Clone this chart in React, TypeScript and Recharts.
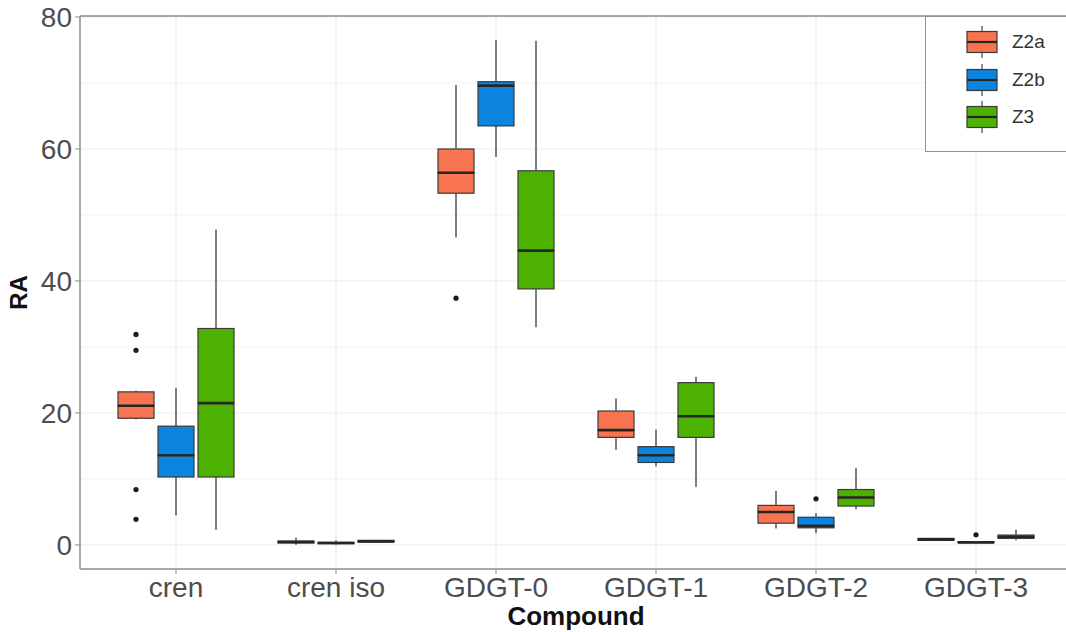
import React from 'react';
import { ComposedChart, Bar, Scatter, XAxis, YAxis, CartesianGrid, ReferenceLine } from 'recharts';

const CATEGORIES = ['cren', 'cren iso', 'GDGT-0', 'GDGT-1', 'GDGT-2', 'GDGT-3'];
const SERIES = ['Z2a', 'Z2b', 'Z3'];

const COLORS: Record<string, string> = {
  Z2a: '#F8734F',
  Z2b: '#0A84DF',
  Z3: '#4DB102',
};

// [lower whisker, q1, median, q3, upper whisker] per category
const Z2A_BOXES = [
  [19.0, 19.2, 21.1, 23.2, 23.4],
  [0.05, 0.3, 0.45, 0.6, 1.1],
  [46.6, 53.3, 56.4, 60.0, 69.7],
  [14.4, 16.3, 17.4, 20.3, 22.2],
  [2.5, 3.3, 5.0, 6.0, 8.2],
  [0.6, 0.7, 0.85, 1.0, 1.1],
];
const Z2B_BOXES = [
  [4.5, 10.3, 13.6, 18.0, 23.8],
  [0.05, 0.2, 0.3, 0.4, 0.7],
  [58.8, 63.5, 69.6, 70.2, 76.5],
  [11.9, 12.5, 13.6, 14.9, 17.5],
  [1.8, 2.6, 2.9, 4.2, 4.8],
  [0.3, 0.35, 0.4, 0.5, 0.55],
];
const Z3_BOXES = [
  [2.3, 10.3, 21.5, 32.8, 47.8],
  [0.3, 0.45, 0.55, 0.7, 0.8],
  [33.0, 38.8, 44.6, 56.7, 76.4],
  [8.8, 16.3, 19.5, 24.6, 25.5],
  [5.4, 5.9, 7.2, 8.4, 11.7],
  [0.7, 1.0, 1.25, 1.5, 2.3],
];

// [category, value]
const Z2A_OUTLIERS: [string, number][] = [
  ['cren', 31.9],
  ['cren', 29.5],
  ['cren', 8.4],
  ['cren', 3.9],
  ['GDGT-0', 37.4],
];
const Z2B_OUTLIERS: [string, number][] = [
  ['GDGT-2', 7.0],
  ['GDGT-3', 1.55],
];
const Z3_OUTLIERS: [string, number][] = [];

const Y_TICKS = [0, 20, 40, 60, 80];
const Y_MINOR = [10, 30, 50, 70];

const BOXES: Record<string, number[][]> = { Z2a: Z2A_BOXES, Z2b: Z2B_BOXES, Z3: Z3_BOXES };
const OUTLIERS: Record<string, [string, number][]> = { Z2a: Z2A_OUTLIERS, Z2b: Z2B_OUTLIERS, Z3: Z3_OUTLIERS };

const Y_DOMAIN: [number, number] = [-3.64, 80.15];
const DODGE = 0.25; // box offset within a category, in category units
const FONT = '"Liberation Sans", Arial, Helvetica, sans-serif';

const rows = CATEGORIES.map((name, i) => {
  const row: Record<string, any> = { name };
  SERIES.forEach((s) => {
    const [lo, q1, med, q3, hi] = BOXES[s][i];
    row[`${s}_base`] = lo;
    row[`${s}_lw`] = q1 - lo;
    row[`${s}_b1`] = med - q1;
    row[`${s}_b2`] = q3 - med;
    row[`${s}_uw`] = hi - q3;
  });
  return row;
});

const outlierPoints = SERIES.flatMap((s, si) =>
  OUTLIERS[s].map(([cat, v]) => ({ x: CATEGORIES.indexOf(cat) + 1 + (si - 1) * DODGE, y: v }))
);

const minorLines = ({ yAxis, offset }: any) =>
  Y_MINOR.map((v) =>
    yAxis && typeof yAxis.scale === 'function'
      ? yAxis.scale(v)
      : offset.top + (offset.height * (Y_DOMAIN[1] - v)) / (Y_DOMAIN[1] - Y_DOMAIN[0])
  );

const Whisker = (props: any) => {
  const { x, y, width, height } = props;
  const cx = x + width / 2;
  return <line x1={cx} x2={cx} y1={y} y2={y + height} stroke="#555" strokeWidth={1.5} />;
};

const makeBox = (color: string, withMedian: boolean) => (props: any) => {
  const { x, y, width, height } = props;
  return (
    <g>
      <rect x={x} y={y} width={width} height={Math.max(height, 0)} fill={color} stroke="#3a3a3a" strokeWidth={1.2} />
      {withMedian && (
        <line x1={x} x2={x + width} y1={y + height} y2={y + height} stroke="#262626" strokeWidth={2.6} />
      )}
    </g>
  );
};

const Empty = () => <g />;

const LegendIcon = ({ color }: { color: string }) => (
  <svg width={32} height={36} style={{ display: 'block' }}>
    <line x1={16} x2={16} y1={2} y2={34} stroke="#555" strokeWidth={1.3} />
    <rect x={1} y={7.5} width={30} height={21} fill={color} stroke="#3a3a3a" strokeWidth={1.2} />
    <line x1={1} x2={31} y1={18} y2={18} stroke="#262626" strokeWidth={2.2} />
  </svg>
);

export default function App() {
  return (
    <div
      style={{
        position: 'fixed',
        left: 0,
        top: 0,
        width: 1066,
        height: 632,
        overflow: 'hidden',
        background: '#fff',
        fontFamily: FONT,
      }}
    >
      <ComposedChart
        width={1080}
        height={632}
        data={rows}
        margin={{ top: 16, right: 8, bottom: 0, left: 0 }}
        barSize={36}
        barGap={4}
      >
        <CartesianGrid vertical={false} stroke="#f3f3f3" strokeWidth={1} horizontalCoordinatesGenerator={minorLines} />
        <CartesianGrid stroke="#ebebeb" strokeWidth={1.2} />
        <ReferenceLine y={Y_DOMAIN[1]} stroke="#8f8f8f" strokeWidth={1.5} />
        <XAxis
          dataKey="name"
          height={63}
          interval={0}
          padding={{ left: 16, right: 16 }}
          tickSize={5}
          tickMargin={3}
          stroke="#8f8f8f"
          axisLine={{ stroke: '#8f8f8f', strokeWidth: 1.5 }}
          tickLine={{ stroke: '#8f8f8f' }}
          tick={{ fontSize: 28, fill: '#4d4d4d' }}
          label={{
            content: (p: any) => {
              const vb = p.viewBox;
              return (
                <text x={vb.x + vb.width / 2} y={625} textAnchor="middle" fontSize={26} fontWeight="bold" fill="#111">
                  Compound
                </text>
              );
            },
          }}
        />
        <XAxis xAxisId="n" type="number" dataKey="x" domain={[0.4, 6.6]} allowDataOverflow hide />
        <YAxis
          width={80}
          domain={Y_DOMAIN}
          ticks={Y_TICKS}
          allowDataOverflow
          tickSize={5}
          tickMargin={3}
          stroke="#8f8f8f"
          axisLine={{ stroke: '#8f8f8f', strokeWidth: 1.5 }}
          tickLine={{ stroke: '#8f8f8f' }}
          tick={{ fontSize: 28, fill: '#4d4d4d' }}
          label={{
            content: (p: any) => {
              const vb = p.viewBox;
              const cy = vb.y + vb.height / 2;
              return (
                <text
                  x={27}
                  y={cy}
                  textAnchor="middle"
                  fontSize={24}
                  fontWeight="bold"
                  fill="#111"
                  transform={`rotate(-90 27 ${cy})`}
                >
                  RA
                </text>
              );
            },
          }}
        />
        {SERIES.flatMap((s) => [
          <Bar key={`${s}_base`} dataKey={`${s}_base`} stackId={s} shape={Empty} isAnimationActive={false} />,
          <Bar key={`${s}_lw`} dataKey={`${s}_lw`} stackId={s} shape={Whisker} isAnimationActive={false} />,
          <Bar key={`${s}_b1`} dataKey={`${s}_b1`} stackId={s} shape={makeBox(COLORS[s], false)} isAnimationActive={false} />,
          <Bar key={`${s}_b2`} dataKey={`${s}_b2`} stackId={s} shape={makeBox(COLORS[s], true)} isAnimationActive={false} />,
          <Bar key={`${s}_uw`} dataKey={`${s}_uw`} stackId={s} shape={Whisker} isAnimationActive={false} />,
        ])}
        <Scatter
          xAxisId="n"
          data={outlierPoints}
          dataKey="y"
          isAnimationActive={false}
          shape={(p: any) => <circle cx={p.cx} cy={p.cy} r={2.6} fill="#1a1a1a" />}
        />
      </ComposedChart>
      <div
        style={{
          position: 'absolute',
          left: 925,
          top: 16,
          width: 200,
          height: 136,
          border: '1.5px solid #8f8f8f',
          background: '#fff',
          boxSizing: 'border-box',
        }}
      >
        {SERIES.map((s, i) => (
          <div
            key={s}
            style={{ position: 'absolute', left: 40, top: 7 + i * 37.5, display: 'flex', alignItems: 'center' }}
          >
            <LegendIcon color={COLORS[s]} />
            <span style={{ marginLeft: 14, fontSize: 19, color: '#333' }}>{s}</span>
          </div>
        ))}
      </div>
    </div>
  );
}
